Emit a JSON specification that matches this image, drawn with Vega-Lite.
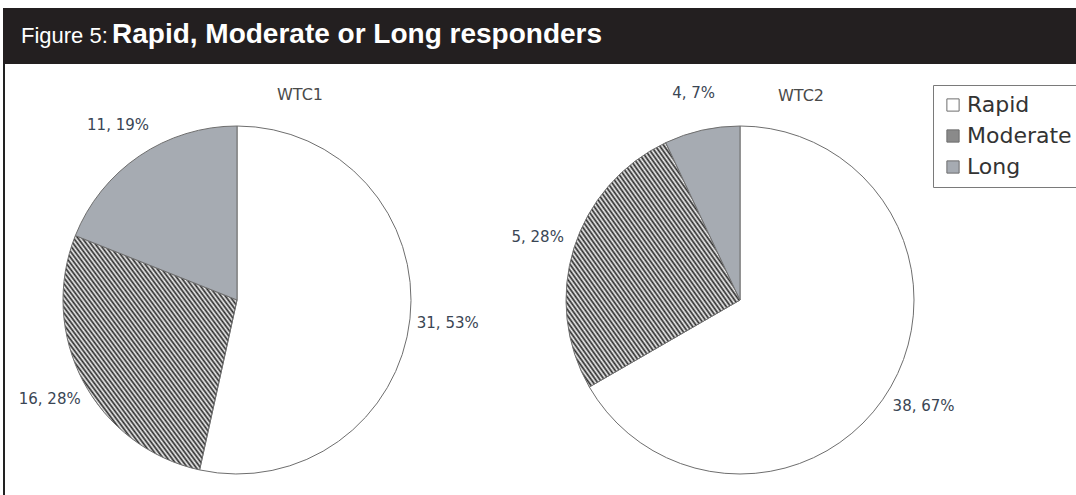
{
  "$schema": "https://vega.github.io/schema/vega-lite/v6.json",
  "background": "white",
  "padding": {"left": 3, "top": 8, "right": 0, "bottom": 0},
  "config": {"view": {"stroke": null}},
  "datasets": {
    "wtc1": [
      {"cat": "Rapid", "n": 31, "label": "31, 53%", "o": 1},
      {"cat": "Moderate", "n": 16, "label": "16, 28%", "o": 2},
      {"cat": "Long", "n": 11, "label": "11, 19%", "o": 3}
    ],
    "wtc2": [
      {"cat": "Rapid", "n": 38, "label": "38, 67%", "o": 1},
      {"cat": "Moderate", "n": 15, "label": "5, 28%", "o": 2},
      {"cat": "Long", "n": 4, "label": "4, 7%", "o": 3}
    ],
    "heading": [
      {"a": "Figure 5:", "b": "Rapid, Moderate or Long responders"}
    ]
  },
  "vconcat": [
    {
      "width": 1073,
      "height": 56,
      "data": {"name": "heading"},
      "layer": [
        {
          "mark": {"type": "rect", "color": "#231f20"},
          "encoding": {"x": {"value": 0}, "x2": {"value": "width"}, "y": {"value": 0}, "y2": {"value": "height"}}
        },
        {
          "mark": {"type": "text", "align": "left", "baseline": "alphabetic", "font": "Liberation Sans", "fontSize": 22, "color": "#ffffff"},
          "encoding": {"text": {"field": "a"}, "x": {"value": 18}, "y": {"value": 35}}
        },
        {
          "mark": {"type": "text", "align": "left", "baseline": "alphabetic", "font": "Liberation Sans", "fontWeight": "bold", "fontSize": 28, "color": "#ffffff"},
          "encoding": {"text": {"field": "b"}, "x": {"value": 109}, "y": {"value": 35}}
        }
      ]
    },
    {
      "hconcat": [
        {
          "width": 468,
          "height": 472,
          "data": {"name": "wtc1"},
          "title": {"text": "WTC1", "offset": -40, "dx": 63, "font": "DejaVu Sans", "fontSize": 16, "fontWeight": "normal", "color": "#4a4a4a"},
          "layer": [
            {
              "mark": {"type": "arc", "outerRadius": 174, "stroke": "#6e6e6e", "strokeWidth": 1},
              "encoding": {
                "theta": {"field": "n", "type": "quantitative", "stack": true},
                "order": {"field": "o", "type": "quantitative"},
                "color": {
                  "condition": {"test": "datum.cat === 'Moderate'", "value": {"gradient": "linear", "x1": 0, "y1": 1, "x2": 1, "y2": 0, "stops": [
                        {"offset":0,"color":"#2a2a2a"},{"offset":0.00625,"color":"#f2f2f2"},
                        {"offset":0.0125,"color":"#2a2a2a"},{"offset":0.01875,"color":"#f2f2f2"},
                        {"offset":0.025,"color":"#2a2a2a"},{"offset":0.03125,"color":"#f2f2f2"},
                        {"offset":0.0375,"color":"#2a2a2a"},{"offset":0.04375,"color":"#f2f2f2"},
                        {"offset":0.05,"color":"#2a2a2a"},{"offset":0.05625,"color":"#f2f2f2"},
                        {"offset":0.0625,"color":"#2a2a2a"},{"offset":0.06875,"color":"#f2f2f2"},
                        {"offset":0.075,"color":"#2a2a2a"},{"offset":0.08125,"color":"#f2f2f2"},
                        {"offset":0.0875,"color":"#2a2a2a"},{"offset":0.09375,"color":"#f2f2f2"},
                        {"offset":0.1,"color":"#2a2a2a"},{"offset":0.10625,"color":"#f2f2f2"},
                        {"offset":0.1125,"color":"#2a2a2a"},{"offset":0.11875,"color":"#f2f2f2"},
                        {"offset":0.125,"color":"#2a2a2a"},{"offset":0.13125,"color":"#f2f2f2"},
                        {"offset":0.1375,"color":"#2a2a2a"},{"offset":0.14375,"color":"#f2f2f2"},
                        {"offset":0.15,"color":"#2a2a2a"},{"offset":0.15625,"color":"#f2f2f2"},
                        {"offset":0.1625,"color":"#2a2a2a"},{"offset":0.16875,"color":"#f2f2f2"},
                        {"offset":0.175,"color":"#2a2a2a"},{"offset":0.18125,"color":"#f2f2f2"},
                        {"offset":0.1875,"color":"#2a2a2a"},{"offset":0.19375,"color":"#f2f2f2"},
                        {"offset":0.2,"color":"#2a2a2a"},{"offset":0.20625,"color":"#f2f2f2"},
                        {"offset":0.2125,"color":"#2a2a2a"},{"offset":0.21875,"color":"#f2f2f2"},
                        {"offset":0.225,"color":"#2a2a2a"},{"offset":0.23125,"color":"#f2f2f2"},
                        {"offset":0.2375,"color":"#2a2a2a"},{"offset":0.24375,"color":"#f2f2f2"},
                        {"offset":0.25,"color":"#2a2a2a"},{"offset":0.25625,"color":"#f2f2f2"},
                        {"offset":0.2625,"color":"#2a2a2a"},{"offset":0.26875,"color":"#f2f2f2"},
                        {"offset":0.275,"color":"#2a2a2a"},{"offset":0.28125,"color":"#f2f2f2"},
                        {"offset":0.2875,"color":"#2a2a2a"},{"offset":0.29375,"color":"#f2f2f2"},
                        {"offset":0.3,"color":"#2a2a2a"},{"offset":0.30625,"color":"#f2f2f2"},
                        {"offset":0.3125,"color":"#2a2a2a"},{"offset":0.31875,"color":"#f2f2f2"},
                        {"offset":0.325,"color":"#2a2a2a"},{"offset":0.33125,"color":"#f2f2f2"},
                        {"offset":0.3375,"color":"#2a2a2a"},{"offset":0.34375,"color":"#f2f2f2"},
                        {"offset":0.35,"color":"#2a2a2a"},{"offset":0.35625,"color":"#f2f2f2"},
                        {"offset":0.3625,"color":"#2a2a2a"},{"offset":0.36875,"color":"#f2f2f2"},
                        {"offset":0.375,"color":"#2a2a2a"},{"offset":0.38125,"color":"#f2f2f2"},
                        {"offset":0.3875,"color":"#2a2a2a"},{"offset":0.39375,"color":"#f2f2f2"},
                        {"offset":0.4,"color":"#2a2a2a"},{"offset":0.40625,"color":"#f2f2f2"},
                        {"offset":0.4125,"color":"#2a2a2a"},{"offset":0.41875,"color":"#f2f2f2"},
                        {"offset":0.425,"color":"#2a2a2a"},{"offset":0.43125,"color":"#f2f2f2"},
                        {"offset":0.4375,"color":"#2a2a2a"},{"offset":0.44375,"color":"#f2f2f2"},
                        {"offset":0.45,"color":"#2a2a2a"},{"offset":0.45625,"color":"#f2f2f2"},
                        {"offset":0.4625,"color":"#2a2a2a"},{"offset":0.46875,"color":"#f2f2f2"},
                        {"offset":0.475,"color":"#2a2a2a"},{"offset":0.48125,"color":"#f2f2f2"},
                        {"offset":0.4875,"color":"#2a2a2a"},{"offset":0.49375,"color":"#f2f2f2"},
                        {"offset":0.5,"color":"#2a2a2a"},{"offset":0.50625,"color":"#f2f2f2"},
                        {"offset":0.5125,"color":"#2a2a2a"},{"offset":0.51875,"color":"#f2f2f2"},
                        {"offset":0.525,"color":"#2a2a2a"},{"offset":0.53125,"color":"#f2f2f2"},
                        {"offset":0.5375,"color":"#2a2a2a"},{"offset":0.54375,"color":"#f2f2f2"},
                        {"offset":0.55,"color":"#2a2a2a"},{"offset":0.55625,"color":"#f2f2f2"},
                        {"offset":0.5625,"color":"#2a2a2a"},{"offset":0.56875,"color":"#f2f2f2"},
                        {"offset":0.575,"color":"#2a2a2a"},{"offset":0.58125,"color":"#f2f2f2"},
                        {"offset":0.5875,"color":"#2a2a2a"},{"offset":0.59375,"color":"#f2f2f2"},
                        {"offset":0.6,"color":"#2a2a2a"},{"offset":0.60625,"color":"#f2f2f2"},
                        {"offset":0.6125,"color":"#2a2a2a"},{"offset":0.61875,"color":"#f2f2f2"},
                        {"offset":0.625,"color":"#2a2a2a"},{"offset":0.63125,"color":"#f2f2f2"},
                        {"offset":0.6375,"color":"#2a2a2a"},{"offset":0.64375,"color":"#f2f2f2"},
                        {"offset":0.65,"color":"#2a2a2a"},{"offset":0.65625,"color":"#f2f2f2"},
                        {"offset":0.6625,"color":"#2a2a2a"},{"offset":0.66875,"color":"#f2f2f2"},
                        {"offset":0.675,"color":"#2a2a2a"},{"offset":0.68125,"color":"#f2f2f2"},
                        {"offset":0.6875,"color":"#2a2a2a"},{"offset":0.69375,"color":"#f2f2f2"},
                        {"offset":0.7,"color":"#2a2a2a"},{"offset":0.70625,"color":"#f2f2f2"},
                        {"offset":0.7125,"color":"#2a2a2a"},{"offset":0.71875,"color":"#f2f2f2"},
                        {"offset":0.725,"color":"#2a2a2a"},{"offset":0.73125,"color":"#f2f2f2"},
                        {"offset":0.7375,"color":"#2a2a2a"},{"offset":0.74375,"color":"#f2f2f2"},
                        {"offset":0.75,"color":"#2a2a2a"},{"offset":0.75625,"color":"#f2f2f2"},
                        {"offset":0.7625,"color":"#2a2a2a"},{"offset":0.76875,"color":"#f2f2f2"},
                        {"offset":0.775,"color":"#2a2a2a"},{"offset":0.78125,"color":"#f2f2f2"},
                        {"offset":0.7875,"color":"#2a2a2a"},{"offset":0.79375,"color":"#f2f2f2"},
                        {"offset":0.8,"color":"#2a2a2a"},{"offset":0.80625,"color":"#f2f2f2"},
                        {"offset":0.8125,"color":"#2a2a2a"},{"offset":0.81875,"color":"#f2f2f2"},
                        {"offset":0.825,"color":"#2a2a2a"},{"offset":0.83125,"color":"#f2f2f2"},
                        {"offset":0.8375,"color":"#2a2a2a"},{"offset":0.84375,"color":"#f2f2f2"},
                        {"offset":0.85,"color":"#2a2a2a"},{"offset":0.85625,"color":"#f2f2f2"},
                        {"offset":0.8625,"color":"#2a2a2a"},{"offset":0.86875,"color":"#f2f2f2"},
                        {"offset":0.875,"color":"#2a2a2a"},{"offset":0.88125,"color":"#f2f2f2"},
                        {"offset":0.8875,"color":"#2a2a2a"},{"offset":0.89375,"color":"#f2f2f2"},
                        {"offset":0.9,"color":"#2a2a2a"},{"offset":0.90625,"color":"#f2f2f2"},
                        {"offset":0.9125,"color":"#2a2a2a"},{"offset":0.91875,"color":"#f2f2f2"},
                        {"offset":0.925,"color":"#2a2a2a"},{"offset":0.93125,"color":"#f2f2f2"},
                        {"offset":0.9375,"color":"#2a2a2a"},{"offset":0.94375,"color":"#f2f2f2"},
                        {"offset":0.95,"color":"#2a2a2a"},{"offset":0.95625,"color":"#f2f2f2"},
                        {"offset":0.9625,"color":"#2a2a2a"},{"offset":0.96875,"color":"#f2f2f2"},
                        {"offset":0.975,"color":"#2a2a2a"},{"offset":0.98125,"color":"#f2f2f2"},
                        {"offset":0.9875,"color":"#2a2a2a"},{"offset":0.99375,"color":"#f2f2f2"},
                        {"offset":1,"color":"#2a2a2a"}
                      ]}},
                  "field": "cat",
                  "type": "nominal",
                  "scale": {
                    "domain": ["Rapid", "Moderate", "Long"],
                    "range": ["#ffffff", "#8a8a8a", "#a6abb2"]
                  },
                  "legend": {
                    "orient": "none",
                    "legendX": 930,
                    "legendY": 77,
                    "title": null,
                    "strokeColor": "#7a7a7a",
                    "fillColor": "#ffffff",
                    "padding": 9,
                    "labelFont": "DejaVu Sans",
                    "labelFontSize": 22,
                    "labelColor": "#333333",
                    "labelLimit": 300,
                    "labelOffset": 3,
                    "symbolType": "square",
                    "symbolSize": 150,
                    "symbolStrokeColor": "#666666",
                    "symbolStrokeWidth": 1,
                    "rowPadding": 9
                  }
                }
              }
            },
            {
              "mark": {"type": "text", "radius": 212, "align": "center", "baseline": "middle", "font": "DejaVu Sans", "fontSize": 15, "color": "#3a4654"},
              "encoding": {
                "theta": {"field": "n", "type": "quantitative", "stack": true},
                "order": {"field": "o", "type": "quantitative"},
                "text": {"field": "label"}
              }
            },
            {
              "data": {"values": [{}]},
              "mark": {"type": "rule", "color": "#222222", "strokeWidth": 2},
              "encoding": {"x": {"value": 1}, "y": {"value": 0}, "y2": {"value": "height"}}
            }
          ]
        },
        {
          "width": 538,
          "height": 472,
          "data": {"name": "wtc2"},
          "title": {"text": "WTC2", "offset": -40, "dx": 61, "font": "DejaVu Sans", "fontSize": 16, "fontWeight": "normal", "color": "#4a4a4a"},
          "layer": [
            {
              "mark": {"type": "arc", "outerRadius": 174, "stroke": "#6e6e6e", "strokeWidth": 1},
              "encoding": {
                "theta": {"field": "n", "type": "quantitative", "stack": true},
                "order": {"field": "o", "type": "quantitative"},
                "color": {
                  "condition": {"test": "datum.cat === 'Moderate'", "value": {"gradient": "linear", "x1": 0, "y1": 1, "x2": 1, "y2": 0, "stops": [
                        {"offset":0,"color":"#2a2a2a"},{"offset":0.00625,"color":"#f2f2f2"},
                        {"offset":0.0125,"color":"#2a2a2a"},{"offset":0.01875,"color":"#f2f2f2"},
                        {"offset":0.025,"color":"#2a2a2a"},{"offset":0.03125,"color":"#f2f2f2"},
                        {"offset":0.0375,"color":"#2a2a2a"},{"offset":0.04375,"color":"#f2f2f2"},
                        {"offset":0.05,"color":"#2a2a2a"},{"offset":0.05625,"color":"#f2f2f2"},
                        {"offset":0.0625,"color":"#2a2a2a"},{"offset":0.06875,"color":"#f2f2f2"},
                        {"offset":0.075,"color":"#2a2a2a"},{"offset":0.08125,"color":"#f2f2f2"},
                        {"offset":0.0875,"color":"#2a2a2a"},{"offset":0.09375,"color":"#f2f2f2"},
                        {"offset":0.1,"color":"#2a2a2a"},{"offset":0.10625,"color":"#f2f2f2"},
                        {"offset":0.1125,"color":"#2a2a2a"},{"offset":0.11875,"color":"#f2f2f2"},
                        {"offset":0.125,"color":"#2a2a2a"},{"offset":0.13125,"color":"#f2f2f2"},
                        {"offset":0.1375,"color":"#2a2a2a"},{"offset":0.14375,"color":"#f2f2f2"},
                        {"offset":0.15,"color":"#2a2a2a"},{"offset":0.15625,"color":"#f2f2f2"},
                        {"offset":0.1625,"color":"#2a2a2a"},{"offset":0.16875,"color":"#f2f2f2"},
                        {"offset":0.175,"color":"#2a2a2a"},{"offset":0.18125,"color":"#f2f2f2"},
                        {"offset":0.1875,"color":"#2a2a2a"},{"offset":0.19375,"color":"#f2f2f2"},
                        {"offset":0.2,"color":"#2a2a2a"},{"offset":0.20625,"color":"#f2f2f2"},
                        {"offset":0.2125,"color":"#2a2a2a"},{"offset":0.21875,"color":"#f2f2f2"},
                        {"offset":0.225,"color":"#2a2a2a"},{"offset":0.23125,"color":"#f2f2f2"},
                        {"offset":0.2375,"color":"#2a2a2a"},{"offset":0.24375,"color":"#f2f2f2"},
                        {"offset":0.25,"color":"#2a2a2a"},{"offset":0.25625,"color":"#f2f2f2"},
                        {"offset":0.2625,"color":"#2a2a2a"},{"offset":0.26875,"color":"#f2f2f2"},
                        {"offset":0.275,"color":"#2a2a2a"},{"offset":0.28125,"color":"#f2f2f2"},
                        {"offset":0.2875,"color":"#2a2a2a"},{"offset":0.29375,"color":"#f2f2f2"},
                        {"offset":0.3,"color":"#2a2a2a"},{"offset":0.30625,"color":"#f2f2f2"},
                        {"offset":0.3125,"color":"#2a2a2a"},{"offset":0.31875,"color":"#f2f2f2"},
                        {"offset":0.325,"color":"#2a2a2a"},{"offset":0.33125,"color":"#f2f2f2"},
                        {"offset":0.3375,"color":"#2a2a2a"},{"offset":0.34375,"color":"#f2f2f2"},
                        {"offset":0.35,"color":"#2a2a2a"},{"offset":0.35625,"color":"#f2f2f2"},
                        {"offset":0.3625,"color":"#2a2a2a"},{"offset":0.36875,"color":"#f2f2f2"},
                        {"offset":0.375,"color":"#2a2a2a"},{"offset":0.38125,"color":"#f2f2f2"},
                        {"offset":0.3875,"color":"#2a2a2a"},{"offset":0.39375,"color":"#f2f2f2"},
                        {"offset":0.4,"color":"#2a2a2a"},{"offset":0.40625,"color":"#f2f2f2"},
                        {"offset":0.4125,"color":"#2a2a2a"},{"offset":0.41875,"color":"#f2f2f2"},
                        {"offset":0.425,"color":"#2a2a2a"},{"offset":0.43125,"color":"#f2f2f2"},
                        {"offset":0.4375,"color":"#2a2a2a"},{"offset":0.44375,"color":"#f2f2f2"},
                        {"offset":0.45,"color":"#2a2a2a"},{"offset":0.45625,"color":"#f2f2f2"},
                        {"offset":0.4625,"color":"#2a2a2a"},{"offset":0.46875,"color":"#f2f2f2"},
                        {"offset":0.475,"color":"#2a2a2a"},{"offset":0.48125,"color":"#f2f2f2"},
                        {"offset":0.4875,"color":"#2a2a2a"},{"offset":0.49375,"color":"#f2f2f2"},
                        {"offset":0.5,"color":"#2a2a2a"},{"offset":0.50625,"color":"#f2f2f2"},
                        {"offset":0.5125,"color":"#2a2a2a"},{"offset":0.51875,"color":"#f2f2f2"},
                        {"offset":0.525,"color":"#2a2a2a"},{"offset":0.53125,"color":"#f2f2f2"},
                        {"offset":0.5375,"color":"#2a2a2a"},{"offset":0.54375,"color":"#f2f2f2"},
                        {"offset":0.55,"color":"#2a2a2a"},{"offset":0.55625,"color":"#f2f2f2"},
                        {"offset":0.5625,"color":"#2a2a2a"},{"offset":0.56875,"color":"#f2f2f2"},
                        {"offset":0.575,"color":"#2a2a2a"},{"offset":0.58125,"color":"#f2f2f2"},
                        {"offset":0.5875,"color":"#2a2a2a"},{"offset":0.59375,"color":"#f2f2f2"},
                        {"offset":0.6,"color":"#2a2a2a"},{"offset":0.60625,"color":"#f2f2f2"},
                        {"offset":0.6125,"color":"#2a2a2a"},{"offset":0.61875,"color":"#f2f2f2"},
                        {"offset":0.625,"color":"#2a2a2a"},{"offset":0.63125,"color":"#f2f2f2"},
                        {"offset":0.6375,"color":"#2a2a2a"},{"offset":0.64375,"color":"#f2f2f2"},
                        {"offset":0.65,"color":"#2a2a2a"},{"offset":0.65625,"color":"#f2f2f2"},
                        {"offset":0.6625,"color":"#2a2a2a"},{"offset":0.66875,"color":"#f2f2f2"},
                        {"offset":0.675,"color":"#2a2a2a"},{"offset":0.68125,"color":"#f2f2f2"},
                        {"offset":0.6875,"color":"#2a2a2a"},{"offset":0.69375,"color":"#f2f2f2"},
                        {"offset":0.7,"color":"#2a2a2a"},{"offset":0.70625,"color":"#f2f2f2"},
                        {"offset":0.7125,"color":"#2a2a2a"},{"offset":0.71875,"color":"#f2f2f2"},
                        {"offset":0.725,"color":"#2a2a2a"},{"offset":0.73125,"color":"#f2f2f2"},
                        {"offset":0.7375,"color":"#2a2a2a"},{"offset":0.74375,"color":"#f2f2f2"},
                        {"offset":0.75,"color":"#2a2a2a"},{"offset":0.75625,"color":"#f2f2f2"},
                        {"offset":0.7625,"color":"#2a2a2a"},{"offset":0.76875,"color":"#f2f2f2"},
                        {"offset":0.775,"color":"#2a2a2a"},{"offset":0.78125,"color":"#f2f2f2"},
                        {"offset":0.7875,"color":"#2a2a2a"},{"offset":0.79375,"color":"#f2f2f2"},
                        {"offset":0.8,"color":"#2a2a2a"},{"offset":0.80625,"color":"#f2f2f2"},
                        {"offset":0.8125,"color":"#2a2a2a"},{"offset":0.81875,"color":"#f2f2f2"},
                        {"offset":0.825,"color":"#2a2a2a"},{"offset":0.83125,"color":"#f2f2f2"},
                        {"offset":0.8375,"color":"#2a2a2a"},{"offset":0.84375,"color":"#f2f2f2"},
                        {"offset":0.85,"color":"#2a2a2a"},{"offset":0.85625,"color":"#f2f2f2"},
                        {"offset":0.8625,"color":"#2a2a2a"},{"offset":0.86875,"color":"#f2f2f2"},
                        {"offset":0.875,"color":"#2a2a2a"},{"offset":0.88125,"color":"#f2f2f2"},
                        {"offset":0.8875,"color":"#2a2a2a"},{"offset":0.89375,"color":"#f2f2f2"},
                        {"offset":0.9,"color":"#2a2a2a"},{"offset":0.90625,"color":"#f2f2f2"},
                        {"offset":0.9125,"color":"#2a2a2a"},{"offset":0.91875,"color":"#f2f2f2"},
                        {"offset":0.925,"color":"#2a2a2a"},{"offset":0.93125,"color":"#f2f2f2"},
                        {"offset":0.9375,"color":"#2a2a2a"},{"offset":0.94375,"color":"#f2f2f2"},
                        {"offset":0.95,"color":"#2a2a2a"},{"offset":0.95625,"color":"#f2f2f2"},
                        {"offset":0.9625,"color":"#2a2a2a"},{"offset":0.96875,"color":"#f2f2f2"},
                        {"offset":0.975,"color":"#2a2a2a"},{"offset":0.98125,"color":"#f2f2f2"},
                        {"offset":0.9875,"color":"#2a2a2a"},{"offset":0.99375,"color":"#f2f2f2"},
                        {"offset":1,"color":"#2a2a2a"}
                      ]}},
                  "field": "cat",
                  "type": "nominal"
                }
              }
            },
            {
              "mark": {"type": "text", "radius": 212, "align": "center", "baseline": "middle", "font": "DejaVu Sans", "fontSize": 15, "color": "#3a4654"},
              "encoding": {
                "theta": {"field": "n", "type": "quantitative", "stack": true},
                "order": {"field": "o", "type": "quantitative"},
                "text": {"field": "label"}
              }
            }
          ]
        }
      ],
      "spacing": 0,
      "bounds": "flush",
      "resolve": {"scale": {"color": "shared"}, "legend": {"color": "shared"}}
    }
  ],
  "spacing": 0,
  "bounds": "flush"
}
